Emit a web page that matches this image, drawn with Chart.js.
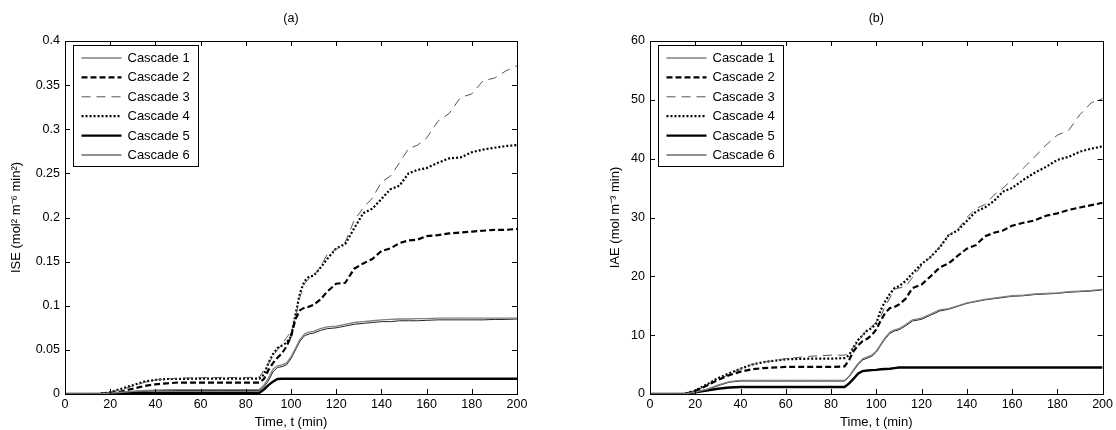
<!DOCTYPE html>
<html>
<head>
<meta charset="utf-8">
<title>ISE / IAE cascades</title>
<script src="https://cdn.jsdelivr.net/npm/chart.js@4.4.1/dist/chart.umd.min.js"></script>
<style>
  body { margin: 0; background: #fff; }
  #wrap { position: relative; width: 1116px; height: 430px; }
  .panel { position: absolute; top: 0; width: 558px; height: 430px; }
</style>
</head>
<body>
<div id="wrap">
  <div class="panel" style="left:0"><canvas id="iseChart" width="558" height="430"></canvas></div>
  <div class="panel" style="left:558px"><canvas id="iaeChart" width="558" height="430"></canvas></div>
</div>
<script>
// --- data ---
const seriesNames = ["Cascade 1", "Cascade 2", "Cascade 3", "Cascade 4", "Cascade 5", "Cascade 6"];

const times = [0, 10, 15, 20, 25, 30, 35, 40, 45, 50,
  60, 70, 80, 86, 88, 90, 92, 94, 96, 98,
  100, 102, 104, 106, 108, 110, 113, 116, 120, 124,
  128, 132, 136, 140, 144, 148, 152, 156, 160, 165,
  170, 175, 180, 185, 190, 195, 200];

// (a) ISE
const ise1 = [0, 0, 0, 0.001, 0.002, 0.003, 0.004, 0.0045, 0.0048, 0.005,
  0.005, 0.005, 0.005, 0.005, 0.010, 0.018, 0.028, 0.032, 0.033, 0.035,
  0.042, 0.052, 0.062, 0.068, 0.070, 0.071, 0.074, 0.076, 0.077, 0.079,
  0.081, 0.082, 0.083, 0.084, 0.0845, 0.085, 0.085, 0.0855, 0.0855, 0.086,
  0.086, 0.086, 0.086, 0.086, 0.086, 0.086, 0.086];
const ise2 = [0, 0, 0, 0.001, 0.003, 0.006, 0.009, 0.011, 0.012, 0.013,
  0.013, 0.013, 0.013, 0.013, 0.017, 0.027, 0.035, 0.041, 0.046, 0.054,
  0.065, 0.085, 0.095, 0.098, 0.099, 0.101, 0.107, 0.116, 0.125, 0.126,
  0.142, 0.148, 0.153, 0.162, 0.165, 0.171, 0.174, 0.175, 0.179, 0.180,
  0.182, 0.183, 0.184, 0.185, 0.186, 0.186, 0.187];
const ise3 = [0, 0, 0, 0.002, 0.005, 0.009, 0.013, 0.016, 0.017, 0.018,
  0.0185, 0.0187, 0.0187, 0.019, 0.027, 0.034, 0.043, 0.050, 0.056, 0.064,
  0.070, 0.088, 0.110, 0.125, 0.131, 0.134, 0.144, 0.158, 0.164, 0.172,
  0.197, 0.211, 0.222, 0.240, 0.247, 0.262, 0.278, 0.282, 0.290, 0.309,
  0.318, 0.336, 0.340, 0.355, 0.358, 0.366, 0.372];
const ise4 = [0, 0, 0, 0.002, 0.006, 0.010, 0.014, 0.016, 0.017, 0.017,
  0.0175, 0.0175, 0.0175, 0.0175, 0.022, 0.035, 0.045, 0.052, 0.055, 0.058,
  0.065, 0.090, 0.115, 0.128, 0.133, 0.134, 0.143, 0.153, 0.165, 0.170,
  0.188, 0.205, 0.210, 0.221, 0.232, 0.236, 0.250, 0.254, 0.256, 0.262,
  0.267, 0.268, 0.274, 0.277, 0.279, 0.281, 0.282];
const ise5 = [0, 0, 0, 0.0005, 0.001, 0.001, 0.0015, 0.0015, 0.0015, 0.0015,
  0.0015, 0.0015, 0.0015, 0.0015, 0.005, 0.010, 0.014, 0.017, 0.0172, 0.0172,
  0.0172, 0.0172, 0.0172, 0.0172, 0.0172, 0.0172, 0.0172, 0.0172, 0.0172, 0.0172,
  0.0172, 0.0172, 0.0172, 0.0172, 0.0172, 0.0172, 0.0172, 0.0172, 0.0172, 0.0172,
  0.0172, 0.0172, 0.0172, 0.0172, 0.0172, 0.0172, 0.0172];
const ise6 = [0, 0, 0, 0.001, 0.002, 0.003, 0.0035, 0.004, 0.004, 0.004,
  0.004, 0.004, 0.004, 0.004, 0.008, 0.015, 0.025, 0.030, 0.031, 0.033,
  0.040, 0.050, 0.060, 0.066, 0.068, 0.069, 0.072, 0.074, 0.075, 0.077,
  0.079, 0.080, 0.081, 0.082, 0.082, 0.083, 0.083, 0.083, 0.0835, 0.084,
  0.084, 0.084, 0.084, 0.084, 0.0845, 0.0845, 0.085];

// (b) IAE
const iae1 = [0, 0, 0, 0.3, 0.8, 1.5, 2.1, 2.3, 2.3, 2.3,
  2.3, 2.3, 2.3, 2.3, 3.0, 4.2, 5.2, 6.0, 6.3, 6.6,
  7.3, 8.5, 9.6, 10.5, 10.9, 11.1, 11.8, 12.6, 12.9, 13.6,
  14.3, 14.5, 15.0, 15.5, 15.8, 16.1, 16.3, 16.5, 16.7, 16.8,
  17.0, 17.1, 17.2, 17.4, 17.5, 17.6, 17.8];
const iae2 = [0, 0, 0, 0.5, 1.4, 2.4, 3.2, 3.8, 4.2, 4.4,
  4.6, 4.6, 4.6, 4.7, 5.8, 7.3, 8.3, 9.0, 9.4, 10.0,
  11.0, 12.5, 13.8, 14.6, 14.8, 15.2, 16.2, 18.0, 18.6, 20.0,
  21.5, 22.2, 23.5, 24.7, 25.3, 26.8, 27.4, 27.8, 28.6, 29.1,
  29.5, 30.3, 30.7, 31.3, 31.7, 32.1, 32.5];
const iae3 = [0, 0, 0, 0.5, 1.5, 2.5, 3.3, 4.3, 5.0, 5.4,
  6.0, 6.4, 6.6, 6.6, 7.0, 8.0, 8.8, 10.0, 11.0, 11.5,
  12.2, 13.2, 15.0, 16.3, 17.8, 18.0, 18.3, 19.8, 21.8, 23.3,
  25.0, 27.0, 28.0, 30.0, 31.5, 32.2, 33.8, 35.0, 36.4, 38.4,
  40.3, 42.3, 44.0, 44.8, 47.5, 49.5, 50.2];
const iae4 = [0, 0, 0, 0.6, 1.6, 2.7, 3.5, 4.3, 5.0, 5.4,
  5.9, 6.0, 6.0, 6.1, 6.6, 8.0, 9.2, 10.0, 10.8, 11.2,
  12.0, 14.3, 15.8, 17.0, 18.0, 18.3, 19.2, 20.5, 22.1, 23.3,
  24.9, 27.0, 27.8, 29.4, 31.0, 31.7, 32.8, 34.4, 35.0, 36.4,
  37.6, 38.6, 39.8, 40.3, 41.2, 41.7, 42.1];
const iae5 = [0, 0, 0, 0.3, 0.6, 0.9, 1.1, 1.2, 1.2, 1.2,
  1.2, 1.2, 1.2, 1.2, 1.8, 2.6, 3.5, 3.9, 4.0, 4.05,
  4.1, 4.2, 4.25, 4.3, 4.4, 4.5, 4.5, 4.5, 4.5, 4.5,
  4.5, 4.5, 4.5, 4.5, 4.5, 4.5, 4.5, 4.5, 4.5, 4.5,
  4.5, 4.5, 4.5, 4.5, 4.5, 4.5, 4.5];
const iae6 = [0, 0, 0, 0.3, 0.7, 1.4, 2.0, 2.2, 2.2, 2.2,
  2.2, 2.2, 2.2, 2.2, 2.9, 4.0, 5.0, 5.8, 6.1, 6.4,
  7.1, 8.3, 9.4, 10.3, 10.7, 10.9, 11.6, 12.4, 12.7, 13.4,
  14.1, 14.4, 14.9, 15.4, 15.7, 16.0, 16.2, 16.4, 16.6, 16.7,
  16.9, 17.0, 17.1, 17.3, 17.4, 17.5, 17.7];

const timeTicks = [0, 20, 40, 60, 80, 100, 120, 140, 160, 180, 200];
const iseTicks = [0, 0.05, 0.1, 0.15, 0.2, 0.25, 0.3, 0.35, 0.4];
const iaeTicks = [0, 10, 20, 30, 40, 50, 60];

// --- line styles (MATLAB-like black & white) ---
const lineStyles = [
  { color: "#808080", width: 1.3, dash: [] },
  { color: "#000000", width: 2.2, dash: [6, 3] },
  { color: "#555555", width: 1, dash: [9, 6] },
  { color: "#000000", width: 2.2, dash: [2, 2] },
  { color: "#000000", width: 2.4, dash: [] },
  { color: "#222222", width: 1, dash: [] }
];

const FONT = '"Liberation Sans", Arial, Helvetica, sans-serif';
Chart.defaults.font.family = FONT;
Chart.defaults.color = "#000";

// frame, inward ticks, panel letter and legend box
const matlabFrame = {
  id: "matlabFrame",
  afterDraw(chart, args, opts) {
    const { ctx, chartArea: a, scales } = chart;
    const tick = 5;
    ctx.save();
    ctx.strokeStyle = "#000";
    ctx.lineWidth = 1;
    ctx.setLineDash([]);
    ctx.strokeRect(Math.round(a.left) + 0.5, Math.round(a.top) + 0.5,
      Math.round(a.width), Math.round(a.height));
    ctx.beginPath();
    scales.x.ticks.forEach(t => {
      const px = Math.round(scales.x.getPixelForValue(t.value)) + 0.5;
      ctx.moveTo(px, a.bottom); ctx.lineTo(px, a.bottom - tick);
      ctx.moveTo(px, a.top); ctx.lineTo(px, a.top + tick);
    });
    scales.y.ticks.forEach(t => {
      const py = Math.round(scales.y.getPixelForValue(t.value)) + 0.5;
      ctx.moveTo(a.left, py); ctx.lineTo(a.left + tick, py);
      ctx.moveTo(a.right, py); ctx.lineTo(a.right - tick, py);
    });
    ctx.stroke();

    // panel letter
    ctx.fillStyle = "#000";
    ctx.font = "12.5px " + FONT;
    ctx.textAlign = "center";
    ctx.textBaseline = "middle";
    ctx.fillText(opts.letter, (a.left + a.right) / 2, 19);

    // legend
    const lx = Math.round(a.left) + 8.5, ly = Math.round(a.top) + 4.5;
    const lw = 125, lh = 121, rowH = 19.4;
    ctx.fillStyle = "#fff";
    ctx.fillRect(lx, ly, lw, lh);
    ctx.strokeStyle = "#000";
    ctx.lineWidth = 1;
    ctx.strokeRect(lx, ly, lw, lh);
    ctx.font = "13px " + FONT;
    ctx.textAlign = "left";
    chart.data.datasets.forEach((ds, i) => {
      const y = ly + 12.5 + i * rowH;
      ctx.beginPath();
      ctx.strokeStyle = ds.borderColor;
      ctx.lineWidth = ds.borderWidth;
      ctx.setLineDash(ds.borderDash);
      ctx.moveTo(lx + 8, y);
      ctx.lineTo(lx + 48, y);
      ctx.stroke();
      ctx.setLineDash([]);
      ctx.fillStyle = "#000";
      ctx.fillText(ds.label, lx + 54, y + 0.5);
    });
    ctx.restore();
  }
};

function buildDatasets(seriesList) {
  return seriesList.map((vals, i) => ({
    label: seriesNames[i],
    data: vals.map((v, k) => ({ x: times[k], y: v })),
    borderColor: lineStyles[i].color,
    borderWidth: lineStyles[i].width,
    borderDash: lineStyles[i].dash,
    pointRadius: 0,
    tension: 0,
    fill: false
  }));
}

function fmt(v) {
  return String(Number(v.toFixed(2)));
}

function makeChart(canvasId, seriesList, yTicks, yMax, yTitle, letter, pad, axisW) {
  new Chart(document.getElementById(canvasId), {
    type: "line",
    data: { datasets: buildDatasets(seriesList) },
    plugins: [matlabFrame],
    options: {
      responsive: false,
      animation: false,
      layout: { padding: { left: pad.left, right: pad.right, top: 41, bottom: 0 } },
      plugins: {
        legend: { display: false },
        tooltip: { enabled: false },
        matlabFrame: { letter: letter }
      },
      scales: {
        x: {
          type: "linear",
          min: 0,
          max: 200,
          afterBuildTicks: s => { s.ticks = timeTicks.map(v => ({ value: v })); },
          afterFit: s => { s.height = 36; },
          grid: { display: false, drawTicks: false },
          border: { display: false },
          ticks: { padding: 3, font: { size: 12.5 }, color: "#000", maxRotation: 0, callback: v => fmt(v) },
          title: { display: true, text: "Time, t (min)", font: { size: 13 }, color: "#000", padding: { top: 0, bottom: 0 } }
        },
        y: {
          type: "linear",
          min: 0,
          max: yMax,
          afterBuildTicks: s => { s.ticks = yTicks.map(v => ({ value: v })); },
          afterFit: s => { s.width = axisW; },
          grid: { display: false, drawTicks: false },
          border: { display: false },
          ticks: { padding: 5, font: { size: 12.5 }, color: "#000", callback: v => fmt(v) },
          title: { display: true, text: yTitle, font: { size: 13 }, color: "#000", padding: { top: 0, bottom: 0 } }
        }
      }
    }
  });
}

makeChart("iseChart", [ise1, ise2, ise3, ise4, ise5, ise6], iseTicks, 0.4,
  "ISE (mol\u00B2 m\u207B\u2076 min\u00B2)", "(a)", { left: 9, right: 41 }, 56);
makeChart("iaeChart", [iae1, iae2, iae3, iae4, iae5, iae6], iaeTicks, 60,
  "IAE (mol m\u207B\u00B3 min)", "(b)", { left: 50, right: 13 }, 42);
</script>
</body>
</html>
